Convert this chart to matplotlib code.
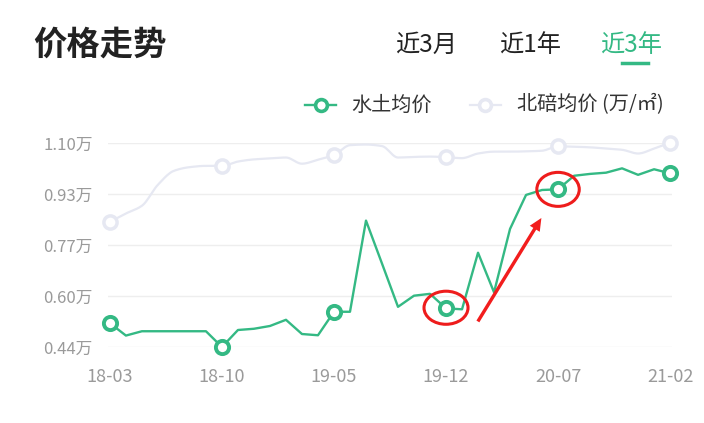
import numpy as np
import matplotlib
matplotlib.use("Agg")
import matplotlib.pyplot as plt
from matplotlib.lines import Line2D
from matplotlib.patches import Ellipse, FancyArrowPatch

plt.rcParams['font.family'] = ['Noto Sans CJK SC', 'DejaVu Sans']

# months 18-03 .. 21-02
months = ['18-03', '18-04', '18-05', '18-06', '18-07', '18-08', '18-09', '18-10',
          '18-11', '18-12', '19-01', '19-02', '19-03', '19-04', '19-05', '19-06',
          '19-07', '19-08', '19-09', '19-10', '19-11', '19-12', '20-01', '20-02',
          '20-03', '20-04', '20-05', '20-06', '20-07', '20-08', '20-09', '20-10',
          '20-11', '20-12', '21-01', '21-02']
tick_labels = ['18-03', '18-10', '19-05', '19-12', '20-07', '21-02']
y_ticks = [0.44, 0.605, 0.77, 0.935, 1.10]
y_tick_labels = ['0.44万', '0.60万', '0.77万', '0.93万', '1.10万']

shuitu = [0.517, 0.477, 0.491, 0.491, 0.491, 0.491, 0.491, 0.440,
          0.495, 0.499, 0.508, 0.528, 0.482, 0.478, 0.554, 0.554,
          0.849, 0.710, 0.570, 0.606, 0.612, 0.565, 0.562, 0.745,
          0.617, 0.822, 0.932, 0.948, 0.950, 0.994, 1.000, 1.004,
          1.018, 0.997, 1.015, 1.002]
beibei = [0.845, 0.872, 0.897, 0.965, 1.010, 1.022, 1.026, 1.026,
          1.040, 1.047, 1.050, 1.053, 1.033, 1.046, 1.061, 1.093,
          1.095, 1.090, 1.053, 1.055, 1.056, 1.054, 1.051, 1.066,
          1.072, 1.072, 1.073, 1.075, 1.089, 1.088, 1.086, 1.082,
          1.078, 1.066, 1.082, 1.101]

GREEN = '#34b984'
LIGHT = '#e6e8f2'
W, H = 704, 423


def px(x, y):
    return x / W, 1 - y / H


def smooth(x, y, n=12):
    # monotone cubic hermite, only for drawing the smooth line
    x = np.asarray(x, float)
    y = np.asarray(y, float)
    d = np.diff(y) / np.diff(x)
    m = np.zeros_like(y)
    m[0], m[-1] = d[0], d[-1]
    for i in range(1, len(y) - 1):
        if d[i - 1] * d[i] > 0:
            m[i] = 2 / (1 / d[i - 1] + 1 / d[i])
    xs, ys = [], []
    for i in range(len(x) - 1):
        t = np.linspace(0, 1, n, endpoint=False)
        h = x[i + 1] - x[i]
        h00 = 2 * t**3 - 3 * t**2 + 1
        h10 = t**3 - 2 * t**2 + t
        h01 = -2 * t**3 + 3 * t**2
        h11 = t**3 - t**2
        xs.append(x[i] + t * h)
        ys.append(h00 * y[i] + h10 * h * m[i] + h01 * y[i + 1] + h11 * h * m[i + 1])
    xs.append([x[-1]])
    ys.append([y[-1]])
    return np.concatenate(xs), np.concatenate(ys)


fig = plt.figure(figsize=(7.04, 4.23), dpi=100)
ax = fig.add_axes([108 / W, 1 - 347 / H, 564 / W, 204 / H])

x = np.arange(len(months))
tick_idx = [months.index(t) for t in tick_labels]

sx, sy = smooth(x, beibei)
ax.plot(sx, sy, color=LIGHT, lw=1.6, zorder=2)
ax.plot(x[tick_idx], np.array(beibei)[tick_idx], 'o', ms=9.5, mfc='white',
        mec=LIGHT, mew=2.5, zorder=3, clip_on=False)

ax.plot(x, shuitu, color=GREEN, lw=1.7, zorder=4)
ax.plot(x[tick_idx], np.array(shuitu)[tick_idx], 'o', ms=9.5, mfc='white',
        mec=GREEN, mew=2.8, zorder=5, clip_on=False)

ax.set_xlim(-0.12, 35.12)
ax.set_ylim(0.44, 1.10)
ax.set_yticks(y_ticks)
ax.set_yticklabels(y_tick_labels)
ax.set_xticks(tick_idx)
ax.set_xticklabels(tick_labels)
ax.tick_params(axis='y', length=0, pad=11, labelsize=12, labelcolor='#9a9a9a')
ax.tick_params(axis='x', length=0, pad=15, labelsize=13, labelcolor='#9a9a9a')
ax.grid(axis='y', color='#eeeeee', lw=1)
ax.grid(axis='x', visible=False)
for s in ax.spines.values():
    s.set_visible(False)
ax.set_axisbelow(True)

# red annotations
ax.add_patch(Ellipse((21.0, 0.567), 2.75, 0.107, fill=False, ec='#ee1c1c',
                     lw=2.2, zorder=6, clip_on=False))
ax.add_patch(Ellipse((28.0, 0.95), 2.65, 0.11, fill=False, ec='#ee1c1c',
                     lw=2.2, zorder=6, clip_on=False))
ax.add_patch(FancyArrowPatch((22.9, 0.515), (27.05, 0.865),
                             arrowstyle='simple,head_width=1.2,head_length=1.3,tail_width=0.35',
                             mutation_scale=7, color='#f21d1d', lw=0, zorder=6))

# title and tabs
fig.text(*px(33, 45), '价格走势', fontsize=24, fontweight='bold', color='#222222', va='center')
fig.text(*px(395, 45), '近3月', fontsize=17.5, color='#222222', va='center')
fig.text(*px(499, 45), '近1年', fontsize=17.5, color='#222222', va='center')
fig.text(*px(600, 45), '近3年', fontsize=17.5, color=GREEN, va='center')
fig.add_artist(Line2D([622 / W, 648 / W], [1 - 63 / H, 1 - 63 / H], color=GREEN, lw=2.5))

# legend
ly = 105
fig.add_artist(Line2D([305 / W, 336 / W], [1 - ly / H] * 2, color=GREEN, lw=1.7))
fig.add_artist(Line2D([320.5 / W], [1 - ly / H], marker='o', ms=8.5, mfc='white', mec=GREEN, mew=2.6))
fig.text(*px(351, ly), '水土均价', fontsize=14.5, color='#333333', va='center')
fig.add_artist(Line2D([470 / W, 501 / W], [1 - ly / H] * 2, color=LIGHT, lw=1.6))
fig.add_artist(Line2D([485.5 / W], [1 - ly / H], marker='o', ms=8.5, mfc='white', mec=LIGHT, mew=2.6))
fig.text(*px(517, ly), '北碚均价 (万/㎡)', fontsize=14.5, color='#333333', va='center')

fig.savefig('out.png', dpi=100)
